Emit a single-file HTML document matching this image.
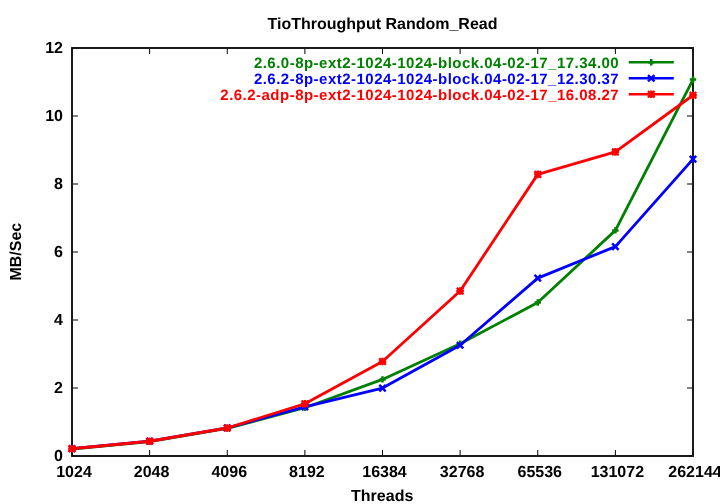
<!DOCTYPE html>
<html><head><meta charset="utf-8"><title>TioThroughput Random_Read</title>
<style>
html,body{margin:0;padding:0;background:#fff;}
body{width:720px;height:504px;overflow:hidden;}
svg{display:block;}
text{font-family:"Liberation Sans",Arial,Helvetica,sans-serif;font-weight:bold;font-size:16px;fill:#000;text-rendering:geometricPrecision;}
.l{font-size:15px;letter-spacing:0.48px;}
</style></head><body>
<svg xmlns="http://www.w3.org/2000/svg" width="720" height="504" viewBox="0 0 720 504">
<rect x="0" y="0" width="720" height="504" fill="#fff"/>
<path d="M73 456h5M692 456h-5M73 388h5M692 388h-5M73 320h5M692 320h-5M73 252h5M692 252h-5M73 184h5M692 184h-5M73 116h5M692 116h-5M73 48h5M692 48h-5M72.00 455v-5M72.00 49v5M149.62 455v-5M149.62 49v5M227.25 455v-5M227.25 49v5M304.88 455v-5M304.88 49v5M382.50 455v-5M382.50 49v5M460.12 455v-5M460.12 49v5M537.75 455v-5M537.75 49v5M615.38 455v-5M615.38 49v5M693.00 455v-5M693.00 49v5" stroke="#000" stroke-width="1" fill="none"/>
<rect x="72" y="48" width="621" height="408" fill="none" stroke="#111" stroke-width="1.9"/>
<text x="63" y="461" text-anchor="end">0</text>
<text x="63" y="393" text-anchor="end">2</text>
<text x="63" y="325" text-anchor="end">4</text>
<text x="63" y="257" text-anchor="end">6</text>
<text x="63" y="189" text-anchor="end">8</text>
<text x="63" y="121" text-anchor="end">10</text>
<text x="63" y="53" text-anchor="end">12</text>
<text x="74.00" y="477" text-anchor="middle">1024</text>
<text x="151.62" y="477" text-anchor="middle">2048</text>
<text x="229.25" y="477" text-anchor="middle">4096</text>
<text x="306.88" y="477" text-anchor="middle">8192</text>
<text x="384.50" y="477" text-anchor="middle">16384</text>
<text x="462.12" y="477" text-anchor="middle">32768</text>
<text x="539.75" y="477" text-anchor="middle">65536</text>
<text x="617.38" y="477" text-anchor="middle">131072</text>
<text x="695.00" y="477" text-anchor="middle">262144</text>
<text x="382.5" y="28.7" text-anchor="middle">TioThroughput Random_Read</text>
<text x="382.2" y="500.7" text-anchor="middle">Threads</text>
<text transform="translate(21.4 251.7) rotate(-90)" text-anchor="middle">MB/Sec</text>
<text x="619.2" y="67.85" text-anchor="end" class="l" style="fill:#008000">2.6.0-8p-ext2-1024-1024-block.04-02-17_17.34.00</text>
<text x="619.2" y="83.85" text-anchor="end" class="l" style="fill:#0000ff">2.6.2-8p-ext2-1024-1024-block.04-02-17_12.30.37</text>
<text x="619.2" y="99.85" text-anchor="end" class="l" style="fill:#ff0000">2.6.2-adp-8p-ext2-1024-1024-block.04-02-17_16.08.27</text>
<g stroke="#008000" fill="none" stroke-width="2.8" stroke-linejoin="round">
<path d="M628.7 62.25H673.8" stroke-width="2.5"/>
<polyline points="72.00,449.00 149.62,441.60 227.25,428.40 304.88,407.75 382.50,379.40 460.12,343.75 537.75,302.50 615.38,230.40 693.00,79.60"/>
<path d="M648.05 62.25H654.45M651.25 59.05V65.45M68.80 449.00H75.20M72.00 445.80V452.20M146.43 441.60H152.82M149.62 438.40V444.80M224.05 428.40H230.45M227.25 425.20V431.60M301.68 407.75H308.07M304.88 404.55V410.95M379.30 379.40H385.70M382.50 376.20V382.60M456.93 343.75H463.32M460.12 340.55V346.95M534.55 302.50H540.95M537.75 299.30V305.70M612.17 230.40H618.58M615.38 227.20V233.60M689.80 79.60H696.20M693.00 76.40V82.80" stroke-width="2.5"/>
</g>
<g stroke="#0000ff" fill="none" stroke-width="2.8" stroke-linejoin="round">
<path d="M628.7 78.25H673.8" stroke-width="2.5"/>
<polyline points="72.00,448.60 149.62,441.20 227.25,427.90 304.88,406.90 382.50,388.10 460.12,345.25 537.75,278.10 615.38,246.60 693.00,159.10"/>
<path d="M648.05 75.05L654.45 81.45M648.05 81.45L654.45 75.05M68.80 445.40L75.20 451.80M68.80 451.80L75.20 445.40M146.43 438.00L152.82 444.40M146.43 444.40L152.82 438.00M224.05 424.70L230.45 431.10M224.05 431.10L230.45 424.70M301.68 403.70L308.07 410.10M301.68 410.10L308.07 403.70M379.30 384.90L385.70 391.30M379.30 391.30L385.70 384.90M456.93 342.05L463.32 348.45M456.93 348.45L463.32 342.05M534.55 274.90L540.95 281.30M534.55 281.30L540.95 274.90M612.17 243.40L618.58 249.80M612.17 249.80L618.58 243.40M689.80 155.90L696.20 162.30M689.80 162.30L696.20 155.90" stroke-width="2.5"/>
</g>
<g stroke="#ff0000" fill="none" stroke-width="2.8" stroke-linejoin="round">
<path d="M628.7 94.25H673.8" stroke-width="2.5"/>
<polyline points="72.00,448.75 149.62,441.25 227.25,428.00 304.88,403.75 382.50,361.50 460.12,291.00 537.75,174.40 615.38,151.90 693.00,95.25"/>
<path d="M647.45 94.25H655.05M651.25 90.45V98.05M647.95 90.95L654.55 97.55M647.95 97.55L654.55 90.95M68.20 448.75H75.80M72.00 444.95V452.55M68.70 445.45L75.30 452.05M68.70 452.05L75.30 445.45M145.82 441.25H153.43M149.62 437.45V445.05M146.32 437.95L152.93 444.55M146.32 444.55L152.93 437.95M223.45 428.00H231.05M227.25 424.20V431.80M223.95 424.70L230.55 431.30M223.95 431.30L230.55 424.70M301.07 403.75H308.68M304.88 399.95V407.55M301.57 400.45L308.18 407.05M301.57 407.05L308.18 400.45M378.70 361.50H386.30M382.50 357.70V365.30M379.20 358.20L385.80 364.80M379.20 364.80L385.80 358.20M456.32 291.00H463.93M460.12 287.20V294.80M456.82 287.70L463.43 294.30M456.82 294.30L463.43 287.70M533.95 174.40H541.55M537.75 170.60V178.20M534.45 171.10L541.05 177.70M534.45 177.70L541.05 171.10M611.58 151.90H619.17M615.38 148.10V155.70M612.08 148.60L618.67 155.20M612.08 155.20L618.67 148.60M689.20 95.25H696.80M693.00 91.45V99.05M689.70 91.95L696.30 98.55M689.70 98.55L696.30 91.95" stroke-width="2.3"/>
</g>
</svg>
</body></html>
